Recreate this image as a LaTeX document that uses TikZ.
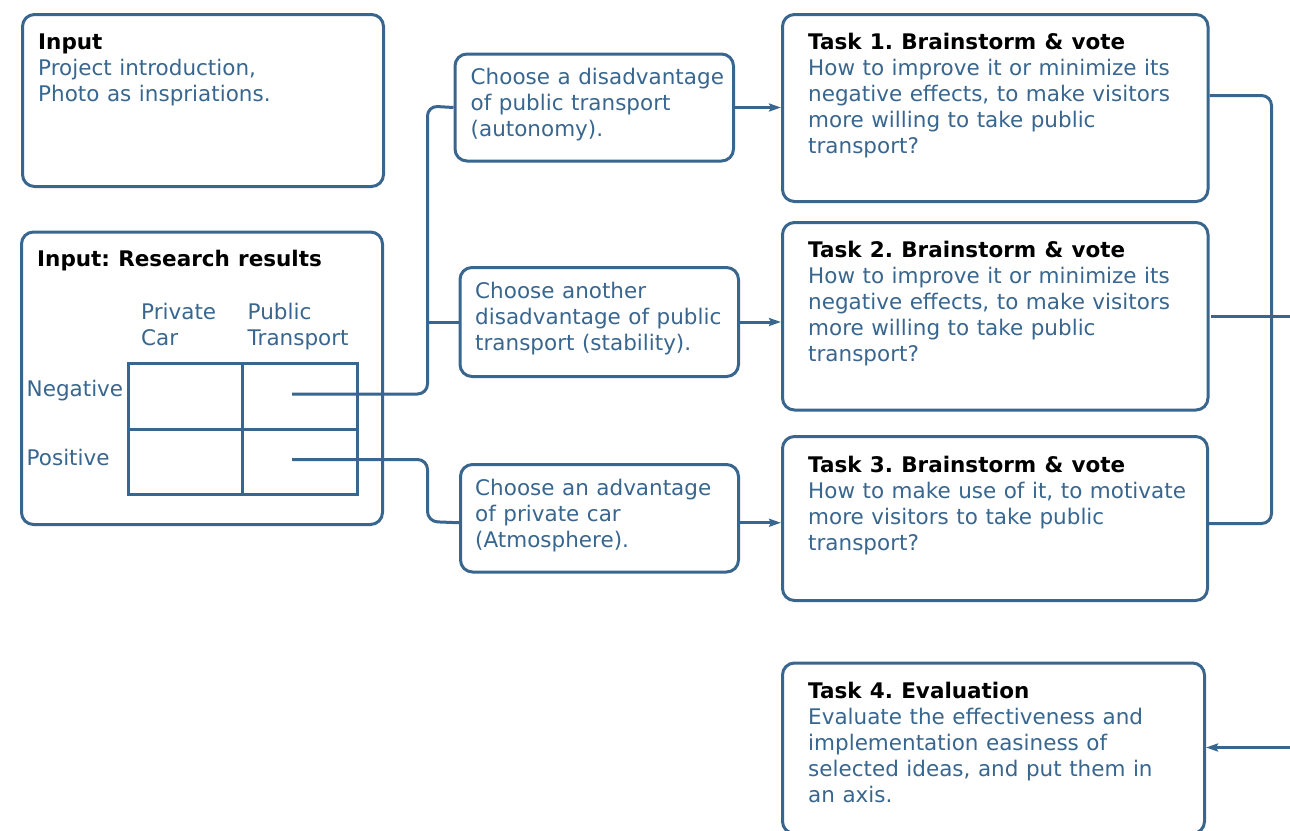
\documentclass[tikz,border=0pt]{standalone}
\usepackage{fontspec}
\setmainfont[WordSpace=1.1]{DejaVu Sans}
\usetikzlibrary{arrows.meta,calc}
\definecolor{ln}{RGB}{56,102,143}
\frenchspacing
\newcommand{\ttl}[1]{\textcolor{black}{\bfseries #1}}
\newcommand{\lines}[1]{\begin{tabular}[t]{@{}l@{}}#1\end{tabular}}
\begin{document}
\begin{tikzpicture}[x=1pt,y=-1pt,
  box/.style={draw=ln,line width=3pt,rounded corners=12pt,inner sep=0pt,anchor=north west},
  cell/.style={draw=ln,line width=3pt,inner sep=0pt,anchor=north west,minimum width=114.25pt,minimum height=65.5pt},
  txt/.style={anchor=base west,inner sep=0pt,text=ln,font=\fontsize{21.5}{26}\selectfont},
  conn/.style={draw=ln,line width=3pt,rounded corners=10pt},
  arr/.style={draw=ln,line width=3pt,-{Stealth[length=12pt,width=8pt,inset=2pt]}}]
\useasboundingbox (0,0) rectangle (1290,830);
\clip (0,0) rectangle (1290,830);

% input boxes
\node[box,minimum width=361pt,minimum height=172pt] (in1) at (21,13) {};
\node[box,minimum width=361pt,minimum height=292.5pt] (in2) at (20,230.5) {};

% research result grid
\node[cell] (negcar) at (127,362) {};
\node[cell] (negpub) at (241.25,362) {};
\node[cell] (poscar) at (127,427.5) {};
\node[cell] (pospub) at (241.25,427.5) {};

% choice boxes
\node[box,minimum width=278.5pt,minimum height=107pt] (ca) at (453.5,52.5) {};
\node[box,minimum width=278.5pt,minimum height=109pt] (cb) at (458.5,266) {};
\node[box,minimum width=278pt,minimum height=107.5pt] (cc) at (459,463) {};

% task boxes
\node[box,minimum width=425.5pt,minimum height=187pt] (t1) at (781,13) {};
\node[box,minimum width=425.5pt,minimum height=187.5pt] (t2) at (781,221) {};
\node[box,minimum width=425pt,minimum height=164pt] (t3) at (781,435) {};
\node[box,minimum width=422pt,minimum height=170.5pt] (t4) at (781,661.5) {};

% texts
\node[txt] (in1t) at (38,49.5) {\lines{\ttl{Input}\\Project introduction,\\Photo as inspriations.}};
\node[txt] (in2t) at (37,266.7) {\lines{\ttl{Input: Research results}}};
\node[txt] (colcar) at (141,319.3) {\lines{Private\\Car}};
\node[txt] (colpub) at (247.5,319.3) {\lines{Public\\Transport}};
\node[txt] (rowneg) at (26.5,396) {Negative};
\node[txt] (rowpos) at (26.5,465) {Positive};
\node[txt] (cat) at (470.5,84.5) {\lines{Choose a disadvantage\\of public transport\\(autonomy).}};
\node[txt] (cbt) at (475,298.3) {\lines{Choose another\\disadvantage of public\\transport (stability).}};
\node[txt] (cct) at (475,495.5) {\lines{Choose an advantage\\of private car\\(Atmosphere).}};
\node[txt] (t1t) at (808,49.3) {\lines{\ttl{Task 1. Brainstorm \& vote}\\How to improve it or minimize its\\negative effects, to make visitors\\more willing to take public\\transport?}};
\node[txt] (t2t) at (808,257.3) {\lines{\ttl{Task 2. Brainstorm \& vote}\\How to improve it or minimize its\\negative effects, to make visitors\\more willing to take public\\transport?}};
\node[txt] (t3t) at (808,472.3) {\lines{\ttl{Task 3. Brainstorm \& vote}\\How to make use of it, to motivate\\more visitors to take public\\transport?}};
\node[txt] (t4t) at (808,698) {\lines{\ttl{Task 4. Evaluation}\\Evaluate the effectiveness and\\implementation easiness of\\selected ideas, and put them in\\an axis.}};

% connector end points
\coordinate (negsrc) at (292,394);
\coordinate (possrc) at (292,459.5);
\coordinate (jtop) at (427.5,106);
\coordinate (jbot) at (427.5,521.5);
\coordinate (ccin) at ($(cc.west)+(0,4.5)$);
\coordinate (ccout) at ($(cc.east)+(0,4.5)$);
\coordinate (t1out) at ($(t1.east)+(0,-12.5)$);
\coordinate (t3out) at ($(t3.east)+(0,5)$);
\coordinate (rx) at (1271.5,300);
\coordinate (midL) at (1211,316.5);
\coordinate (midR) at (1290,316.5);
\coordinate (inR) at (1290,747.5);

% grid to choices
\draw[conn] (negsrc) -| (jtop) -- (ca.west);
\draw[conn] (jtop |- cb.west) -- (cb.west);
\draw[conn] (possrc) -| (jbot) -- (ccin);

% choices to tasks
\draw[arr] (ca.east) -- (ca.east -| t1.west);
\draw[arr] (cb.east) -- (cb.east -| t2.west);
\draw[arr] (ccout) -- (ccout -| t3.west);

% tasks to evaluation
\draw[conn] (t1out) -- (t1out -| rx) -- (rx |- t3out) -- (t3out);
\draw[conn] (midL) -- (midR);
\draw[arr] (inR) -- (inR -| t4.east);
\end{tikzpicture}
\end{document}
